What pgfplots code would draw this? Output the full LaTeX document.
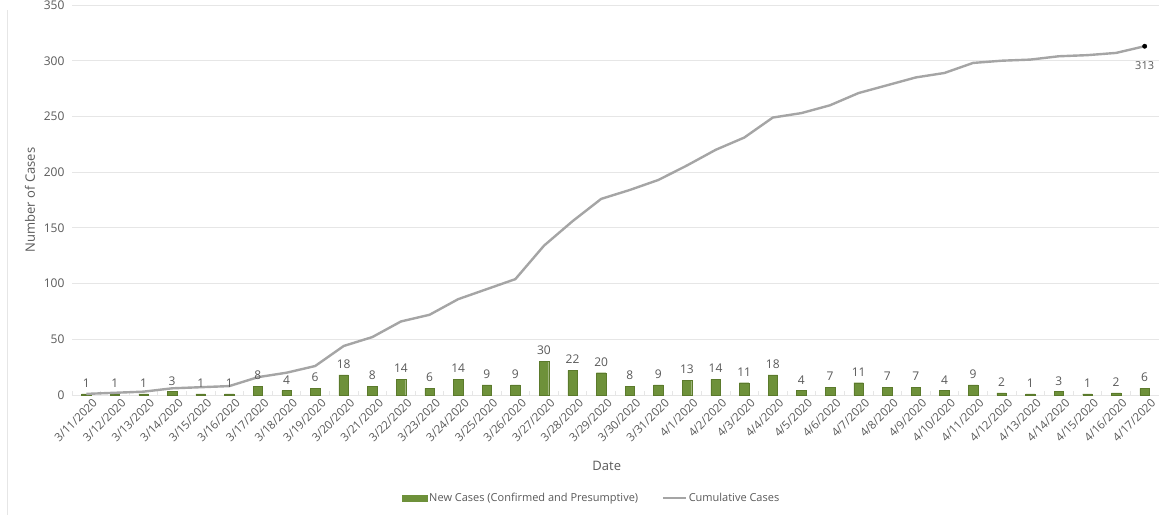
\documentclass[border=0pt]{standalone}
\usepackage{pgfplots}
\pgfplotsset{compat=1.18}
\usepackage{fontspec}
\setmainfont{Open Sans}
\definecolor{barg}{HTML}{6E913A}
\definecolor{bargd}{HTML}{5B7A2C}
\definecolor{lineg}{HTML}{A5A5A5}
\definecolor{txt}{HTML}{595959}
\definecolor{gridc}{HTML}{E6E6E6}
\begin{document}
\begin{tikzpicture}[x=1pt,y=1pt]
\begin{axis}[
  at={(72pt,120pt)}, anchor=south west,
  scale only axis, width=1087pt, height=390pt,
  xmin=-0.5, xmax=37.5, ymin=0, ymax=350,
  xtick=data,
  xticklabels={3/11/2020,3/12/2020,3/13/2020,3/14/2020,3/15/2020,3/16/2020,3/17/2020,3/18/2020,3/19/2020,3/20/2020,3/21/2020,3/22/2020,3/23/2020,3/24/2020,3/25/2020,3/26/2020,3/27/2020,3/28/2020,3/29/2020,3/30/2020,3/31/2020,4/1/2020,4/2/2020,4/3/2020,4/4/2020,4/5/2020,4/6/2020,4/7/2020,4/8/2020,4/9/2020,4/10/2020,4/11/2020,4/12/2020,4/13/2020,4/14/2020,4/15/2020,4/16/2020,4/17/2020},
  xticklabel style={rotate=45, anchor=north east, font=\fontsize{11.5}{13}\selectfont, text=txt, inner sep=1pt, xshift=3pt, yshift=-5pt},
  ytick={0,50,...,350},
  yticklabel style={font=\fontsize{12}{14}\selectfont, text=txt, xshift=-4pt},
  /pgf/number format/assume math mode=true,
  ymajorgrids, grid style={gridc, line width=0.8pt},
  axis y line*=left, y axis line style={draw=none},
  axis x line*=bottom,
  x axis line style={gridc, line width=0.8pt, -},
  major tick length=0pt,
  extra x ticks={-0.5,0.5,...,37.5}, extra x tick labels={},
  extra x tick style={major tick length=4pt, tick style={gridc, line width=0.8pt}, grid=none},
  xlabel={Date}, ylabel={Number of Cases},
  xlabel style={at={(axis description cs:0.492,-0.182)}, anchor=center, font=\fontsize{13}{15}\selectfont, text=txt},
  ylabel style={at={(axis description cs:-0.0386,0.5)}, anchor=center, font=\fontsize{13}{15}\selectfont, text=txt},
  clip=false,
  legend columns=2,
  legend style={at={(axis description cs:0.478,-0.264)}, anchor=center, draw=none, fill=none,
    font=\fontsize{11}{13}\selectfont, text=txt,
    /tikz/every even column/.append style={column sep=22pt}},
  legend cell align=left,
]
\addplot[ybar, bar width=9.5pt, fill=barg, draw=bargd, line width=0.4pt,
  nodes near coords, every node near coord/.append style={font=\fontsize{12}{14}\selectfont, text=txt, yshift=3pt},
  area legend,
  legend image code/.code={\fill[barg] (0pt,-3pt) rectangle (25pt,3pt);}]
coordinates {
(0,1) (1,1) (2,1) (3,3) (4,1) (5,1) (6,8) (7,4) (8,6) (9,18)
(10,8) (11,14) (12,6) (13,14) (14,9) (15,9) (16,30) (17,22) (18,20) (19,8)
(20,9) (21,13) (22,14) (23,11) (24,18) (25,4) (26,7) (27,11) (28,7) (29,7)
(30,4) (31,9) (32,2) (33,1) (34,3) (35,1) (36,2) (37,6)};
\addlegendentry{New Cases (Confirmed and Presumptive)}
\addplot[lineg, line width=2.4pt, no markers,
  legend image code/.code={\draw[lineg, line width=1.6pt] (0pt,0pt) -- (23pt,0pt);}]
coordinates {
(0,1) (1,2) (2,3) (3,6) (4,7) (5,8) (6,16) (7,20) (8,26) (9,44)
(10,52) (11,66) (12,72) (13,86) (14,95) (15,104) (16,134) (17,156) (18,176) (19,184)
(20,193) (21,206) (22,220) (23,231) (24,249) (25,253) (26,260) (27,271) (28,278) (29,285)
(30,289) (31,298) (32,300) (33,301) (34,304) (35,305) (36,307) (37,313)};
\addlegendentry{Cumulative Cases}
\addplot[forget plot, only marks, mark=*, mark size=2.2pt, black,
  nodes near coords, nodes near coords align={below},
  every node near coord/.append style={font=\fontsize{11}{13}\selectfont, text=txt, yshift=-12pt}]
coordinates {(37,313)};
\end{axis}
\draw[gridc, line width=0.8pt] (7pt,0pt) -- (7pt,505pt);
\pgfresetboundingbox
\useasboundingbox (0pt,0pt) rectangle (1159pt,515pt);
\end{tikzpicture}
\end{document}
